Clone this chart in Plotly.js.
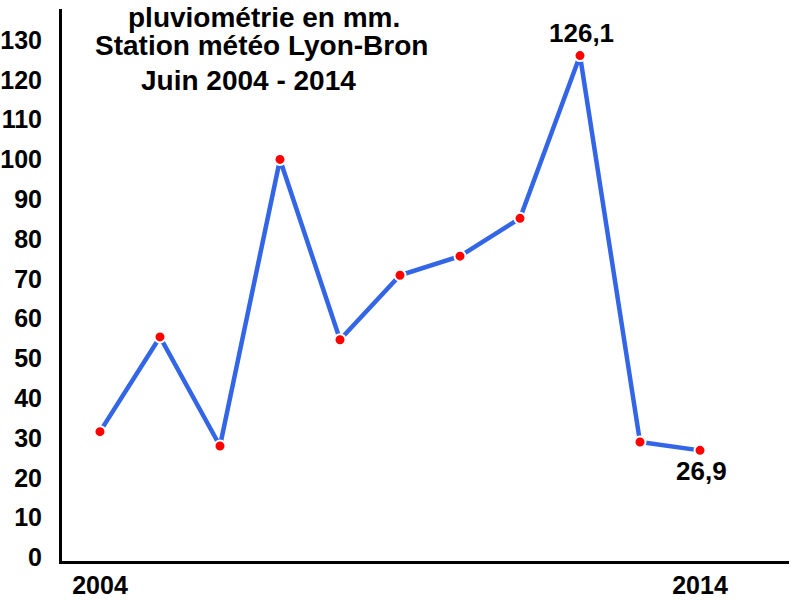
<!DOCTYPE html>
<html>
<head>
<meta charset="utf-8">
<script src="https://cdn.plot.ly/plotly-3.0.1.min.js"></script>
<style>html,body{margin:0;padding:0;background:#fff;}#chart{width:800px;height:600px;}</style>
</head>
<body>
<div id="chart"></div>
<script>
// Data: June rainfall (mm), Lyon-Bron station
const years = [2004, 2005, 2006, 2007, 2008, 2009, 2010, 2011, 2012, 2013, 2014];
const rainfall = [31.6, 55.4, 28.0, 100, 54.7, 70.9, 75.7, 85.2, 126.1, 29.0, 26.9];
const yTicks = [0, 10, 20, 30, 40, 50, 60, 70, 80, 90, 100, 110, 120, 130];
const xTickVals = [2004, 2014];
const xTickText = ['2004', '2014'];
const labelYears = [2012, 2014];
const labelTexts = ['126,1', '26,9'];
const titleLines = ['pluviométrie en mm.', 'Station météo Lyon-Bron', 'Juin 2004 - 2014'];

const FONT = 'Liberation Sans, Arial, sans-serif';

const trace = {
  x: years,
  y: rainfall,
  type: 'scatter',
  mode: 'lines+markers',
  line: {color: '#3366e6', width: 4.5},
  marker: {color: '#ff0000', size: 11, line: {color: '#ffffff', width: 2}},
  hoverinfo: 'x+y'
};

const annotations = [];
labelYears.forEach((yr, i) => {
  const idx = years.indexOf(yr);
  annotations.push({
    x: yr, y: rainfall[idx], xref: 'x', yref: 'y',
    text: labelTexts[i], showarrow: false,
    yshift: i === 0 ? 23 : -21, xshift: 1,
    font: {family: FONT, size: 26, color: '#000', weight: 'bold'}
  });
});
const titleX = [0.278, 0.274, 0.256];
const titleY = [0.9855, 0.933, 0.871];
titleLines.forEach((t, i) => {
  annotations.push({
    x: titleX[i], y: titleY[i], xref: 'paper', yref: 'paper',
    xanchor: 'center', yanchor: 'middle',
    text: t, showarrow: false,
    font: {family: FONT, size: 28, color: '#000', weight: 'bold'}
  });
});

const layout = {
  width: 800, height: 600,
  margin: {l: 62, r: 11, t: 9, b: 39},
  paper_bgcolor: '#fff', plot_bgcolor: '#fff',
  showlegend: false,
  xaxis: {
    range: [2003.367, 2015.483],
    tickvals: xTickVals, ticktext: xTickText,
    showgrid: false, zeroline: false,
    showline: true, linecolor: '#000', linewidth: 3,
    ticks: '', ticklabelstandoff: 0,
    tickfont: {family: FONT, size: 25, color: '#000', weight: 'bold'}
  },
  yaxis: {
    range: [-0.9, 137.8],
    tickvals: yTicks,
    showgrid: false, zeroline: false,
    showline: true, linecolor: '#000', linewidth: 3,
    ticks: '', ticklabelstandoff: 12,
    tickfont: {family: FONT, size: 25, color: '#000', weight: 'bold'}
  },
  annotations: annotations
};

Plotly.newPlot('chart', [trace], layout, {displayModeBar: false, staticPlot: true});
</script>
</body>
</html>
